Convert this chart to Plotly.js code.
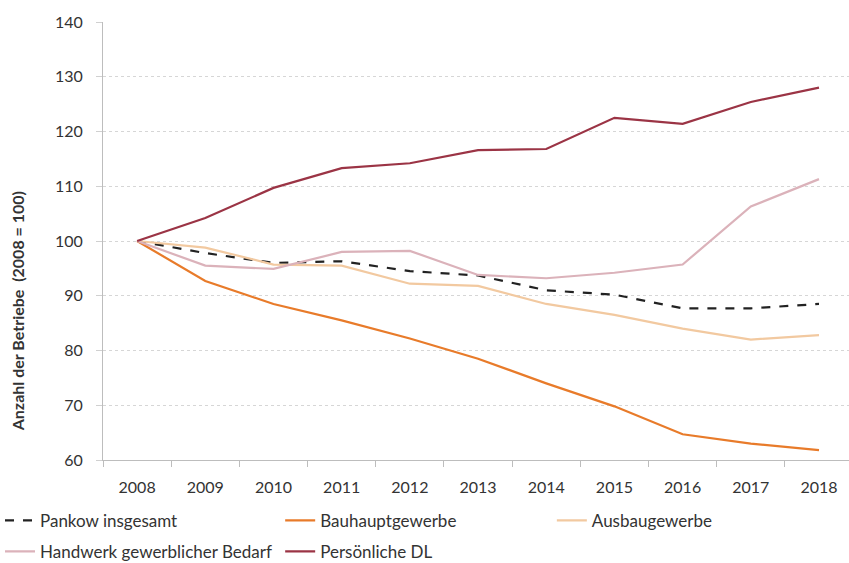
<!DOCTYPE html>
<html>
<head>
<meta charset="utf-8">
<script src="https://cdn.plot.ly/plotly-3.0.1.min.js"></script>
<style>html,body{margin:0;padding:0;background:#fff}#chart{width:849px;height:563px}</style>
</head>
<body>
<div id="chart"></div>
<script>
const years = [2008, 2009, 2010, 2011, 2012, 2013, 2014, 2015, 2016, 2017, 2018];
const pankow = [100, 97.8, 96.0, 96.3, 94.5, 93.7, 91.0, 90.2, 87.7, 87.7, 88.5];
const bauhaupt = [100, 92.7, 88.5, 85.5, 82.2, 78.5, 74.0, 69.8, 64.7, 63.0, 61.8];
const ausbau = [100, 98.8, 95.7, 95.5, 92.2, 91.8, 88.5, 86.5, 84.0, 82.0, 82.8];
const handwerk = [100, 95.5, 94.9, 98.0, 98.2, 93.8, 93.2, 94.2, 95.7, 106.3, 111.3];
const persoenlich = [100, 104.2, 109.7, 113.3, 114.2, 116.6, 116.8, 122.5, 121.4, 125.4, 128.0];
const yTicks = [60, 70, 80, 90, 100, 110, 120, 130, 140];
const xBoundaries = [2007.5, 2008.5, 2009.5, 2010.5, 2011.5, 2012.5, 2013.5, 2014.5, 2015.5, 2016.5, 2017.5, 2018.5];

const FONT = 'Lato, "Open Sans", sans-serif';
const TXT = '#333333';

const traces = [
  {x: years, y: pankow, name: 'Pankow insgesamt', legend: 'legend', line: {color: '#222222', width: 2.2, dash: 'dash'}},
  {x: years, y: bauhaupt, name: 'Bauhauptgewerbe', legend: 'legend2', line: {color: '#e87b2a', width: 2.2}},
  {x: years, y: ausbau, name: 'Ausbaugewerbe', legend: 'legend3', line: {color: '#f2c9a0', width: 2.2}},
  {x: years, y: handwerk, name: 'Handwerk gewerblicher Bedarf', legend: 'legend4', line: {color: '#dbb2ba', width: 2.2}},
  {x: years, y: persoenlich, name: 'Persönliche DL', legend: 'legend5', line: {color: '#9b3445', width: 2.2}}
].map(t => Object.assign({type: 'scatter', mode: 'lines', hoverinfo: 'skip'}, t));

function lg(x, y) {
  return {xref: 'container', yref: 'container', x: x, y: y, xanchor: 'left', yanchor: 'middle',
          orientation: 'h', bgcolor: 'rgba(0,0,0,0)', font: {family: FONT, size: 17, color: TXT}};
}

const layout = {
  width: 849, height: 563,
  margin: {l: 103, r: 0, t: 22, b: 103},
  paper_bgcolor: '#ffffff', plot_bgcolor: '#ffffff',
  font: {family: FONT, size: 16, color: TXT},
  showlegend: true,
  legend: lg(0.0, 0.075),
  legend2: lg(0.33, 0.075),
  legend3: lg(0.65, 0.075),
  legend4: lg(0.0, 0.02),
  legend5: lg(0.33, 0.02),
  xaxis: {
    range: [2007.5, 2018.44],
    tickvals: years, ticktext: years.map(String),
    ticks: '', showgrid: false, zeroline: false,
    showline: true, linecolor: '#bdbdbd', linewidth: 1,
    tickfont: {family: FONT, size: 16, color: TXT},
    ticklabelstandoff: 13,
    minor: {tickvals: xBoundaries, ticks: 'outside', ticklen: 6, tickcolor: '#bdbdbd', showgrid: false}
  },
  yaxis: {
    range: [60, 140],
    tickvals: yTicks, ticktext: yTicks.map(String),
    ticks: 'outside', ticklen: 6, tickcolor: '#d0d0d0',
    showgrid: true, gridcolor: '#d6d6d6', griddash: 'dot', gridwidth: 1,
    zeroline: false, showline: true, linecolor: '#bdbdbd', linewidth: 1,
    tickfont: {family: FONT, size: 16, color: TXT},
    ticklabelstandoff: 10
  },
  annotations: [{
    xref: 'paper', yref: 'paper', x: -0.115, y: 0.34, xanchor: 'center', yanchor: 'middle',
    text: '<b>Anzahl der Betriebe  (2008 = 100)</b>', textangle: -90, showarrow: false,
    font: {family: FONT, size: 16, color: TXT}
  }]
};

Plotly.newPlot('chart', traces, layout, {displayModeBar: false, staticPlot: true});
</script>
</body>
</html>
